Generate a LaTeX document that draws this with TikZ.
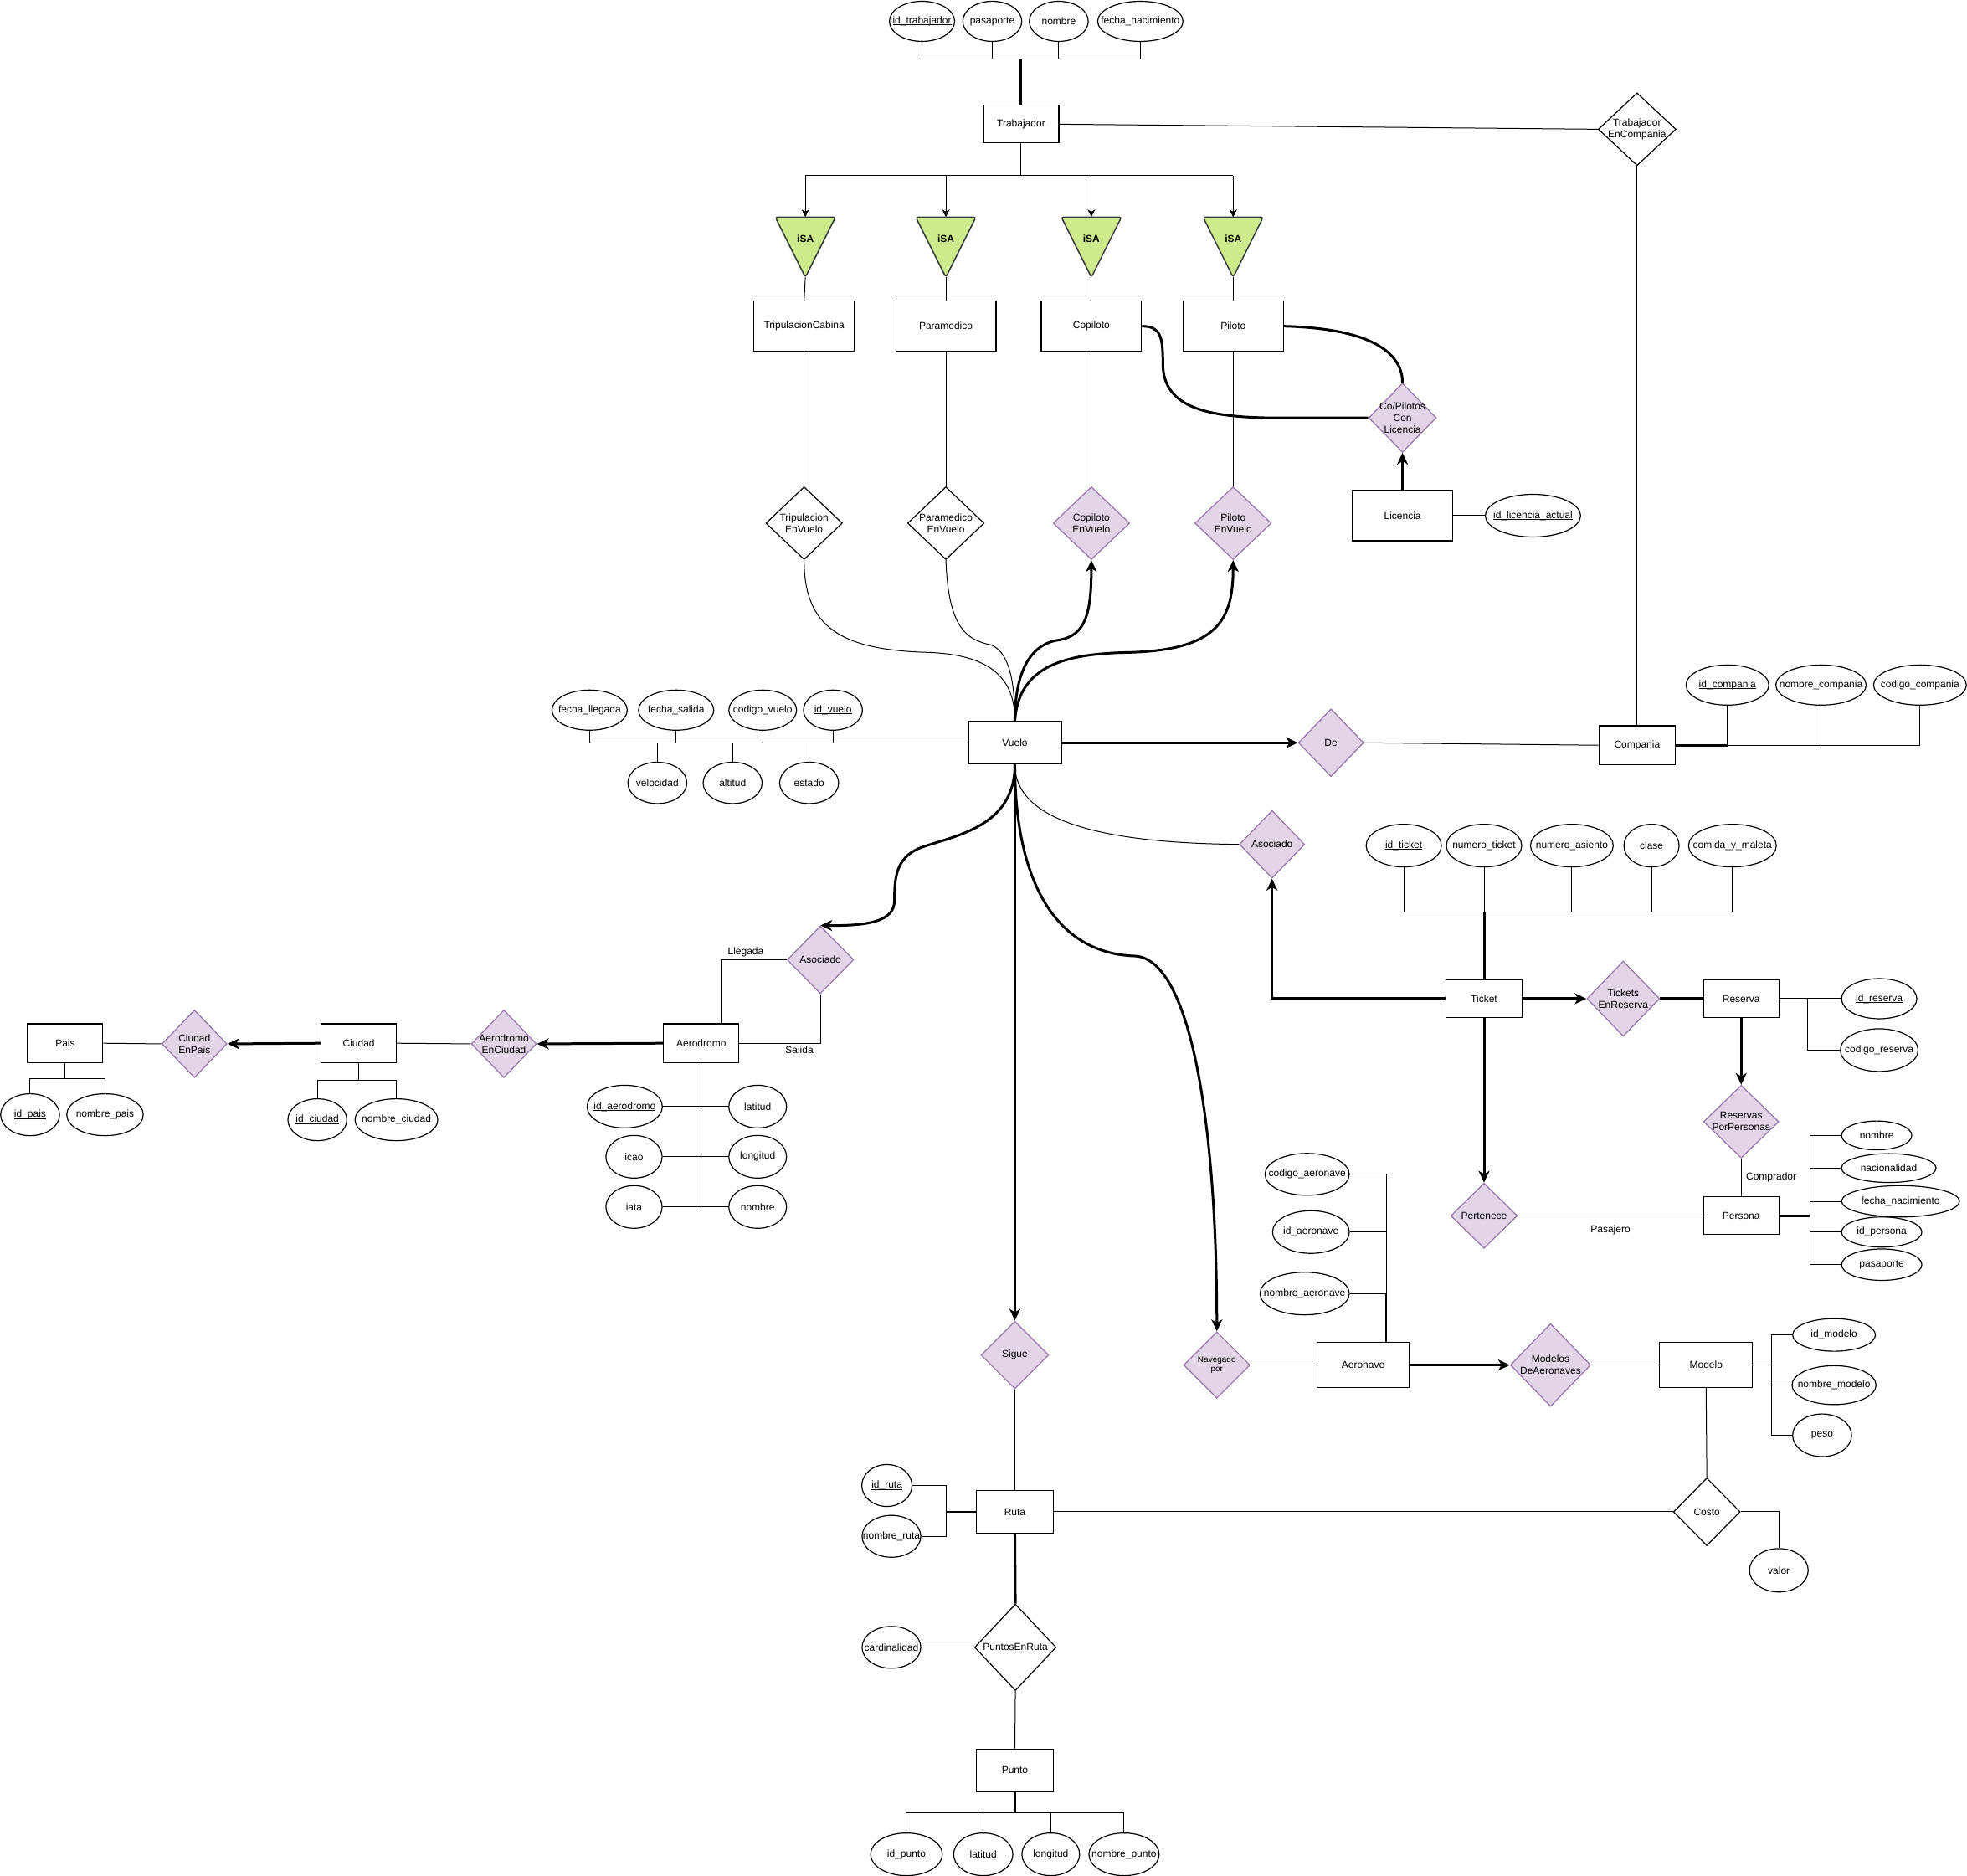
\documentclass[tikz,border=0pt]{standalone}
\usepackage{fontspec}
\setmainfont{Liberation Sans}
\usetikzlibrary{shapes.geometric,arrows.meta}
\definecolor{relfill}{HTML}{E1D5E7}
\definecolor{reldraw}{HTML}{9673A6}
\definecolor{isafill}{HTML}{CDEB8B}
\definecolor{isadraw}{HTML}{36393D}
\newcommand\keyul[1]{\setbox0\hbox{#1}\rlap{\rule[-1.8pt]{\wd0}{0.9pt}}#1}

\begin{document}
\begin{tikzpicture}[x=1.4987pt,y=-1.4987pt,
  font=\fontsize{12}{14}\selectfont,
  conn/.style={line width=1pt},
  bold/.style={line width=3pt},
  tip/.style={-{Stealth[length=14pt,width=13pt,inset=4pt]}},
  smalltip/.style={-{Stealth[length=9pt,width=9pt,inset=2.5pt]}},
  wh/.style 2 args={minimum width=#1*1.4987pt,minimum height=#2*1.4987pt},
  rxy/.style 2 args={minimum width=#1*2.9974pt,minimum height=#2*2.9974pt},
  entity/.style={draw,line width=1.2pt,align=center,inner sep=0pt,wh={60}{30}},
  attr/.style={draw,ellipse,line width=1.2pt,inner xsep=-14pt,inner ysep=-2pt,rxy={25}{16.5}},
  rel/.style={draw,diamond,line width=1.2pt,align=center,inner sep=-4pt,rxy={27}{27}},
  weak/.style={rel,fill=relfill,draw=reldraw},
  isa/.style={fill=isafill,draw=isadraw,line width=1.5pt,rounded corners=3pt}]
  \useasboundingbox (0,0) rectangle (1568,1495);
  \fill[white] (0,0) rectangle (1568,1495);

  % Trabajador
  \node[entity] (trab) at (814,99) {Trabajador};
  \foreach \nm/\x/\rx/\txt in {ta1/735/26/{\keyul{id\_trabajador}},ta2/791/23.5/pasaporte,ta3/844/23.5/nombre,ta4/909/34/fecha\_nacimiento}
    \node[attr,rxy={\rx}{16}] (\nm) at (\x,17) {\txt};
  \coordinate (tbus) at (814,47);
  \draw[conn] (ta1.south) |- (ta4.south |- tbus) -- (ta4.south);
  \foreach \nm in {ta2,ta3} \draw[conn] (\nm.south) -- (\nm.south |- tbus);
  \draw[bold] (tbus) -- (trab.north);
  \node[rel,rxy={31}{29}] (tec) at (1305,103) {Trabajador\\EnCompania};
  \draw[conn] (trab.east) -- (tec.west);

  % iSA
  \coordinate (isabus) at (814,140);
  \draw[conn] (trab.south) -- (isabus);
  \foreach \i/\x in {1/642,2/754,3/870,4/983} {
    \coordinate (isatop\i) at (\x,173);
    \coordinate (isabot\i) at (\x,221);
    \filldraw[isa] (\x-24,173) -- (\x+24,173) -- (\x,221) -- cycle;
    \node[font=\fontsize{12}{14}\selectfont\bfseries] (isa\i) at (\x,190) {iSA};
    \draw[conn,smalltip] (isatop\i |- isabus) -- (isatop\i);
  }
  \draw[conn] (isatop1 |- isabus) -- (isatop4 |- isabus);

  \node[entity,wh={80}{40}] (trip) at (641,260) {TripulacionCabina};
  \node[entity,wh={80}{40}] (param) at (754,260) {Paramedico};
  \node[entity,wh={80}{40}] (copi) at (870,260) {Copiloto};
  \node[entity,wh={80}{40}] (pilo) at (983,260) {Piloto};
  \foreach \i/\nm in {1/trip,2/param,3/copi,4/pilo} \draw[conn] (isabot\i) -- (\nm.north);

  \node[rel,rxy={30.5}{29}] (tripv) at (641,417) {Tripulacion\\EnVuelo};
  \node[rel,rxy={30.5}{29}] (paramv) at (754,417) {Paramedico\\EnVuelo};
  \node[weak,rxy={30.5}{29}] (copiv) at (870,417) {Copiloto\\EnVuelo};
  \node[weak,rxy={30.5}{29}] (pilov) at (983,417) {Piloto\\EnVuelo};
  \foreach \a/\b in {trip/tripv,param/paramv,copi/copiv,pilo/pilov} \draw[conn] (\a.south) -- (\b.north);

  % licencia
  \node[weak,rxy={27}{27.5}] (cpl) at (1118,333) {Co/Pilotos\\Con\\Licencia};
  \node[entity,wh={80}{40}] (lic) at (1118,411) {Licencia};
  \node[attr,rxy={38}{17}] (idlic) at (1222,411) {\keyul{id\_licencia\_actual}};
  \draw[bold,tip] (lic.north) -- (cpl.south);
  \draw[conn] (lic.east) -- (idlic.west);
  \draw[bold] (copi.east) .. controls (925,260) and (927,268) .. (927,290) .. controls (927,326) and (965,332) .. (1010,333) -- (cpl.west);
  \draw[bold] (pilo.east) .. controls (1100,262) and (1118,285) .. (cpl.north);

  % Vuelo
  \node[entity,wh={74}{34}] (vuelo) at (809,592) {Vuelo};
  \draw[conn] (tripv.south) .. controls (641,500) and (670,518) .. (740,520) .. controls (795,522) and (809,545) .. (vuelo.north);
  \draw[conn] (paramv.south) .. controls (756,500) and (770,510) .. (790,514) .. controls (805,520) and (809,545) .. (vuelo.north);
  \draw[bold,tip] (vuelo.north) .. controls (809,530) and (825,512) .. (845,510) .. controls (865,506) and (870,490) .. (copiv.south);
  \draw[bold,tip] (vuelo.north) .. controls (812,530) and (850,521) .. (900,520) .. controls (970,518) and (983,495) .. (pilov.south);
  \foreach \nm/\x/\rx/\txt in {fl/470/30/fecha\_llegada,fs/539/30/fecha\_salida,cv/608/27/codigo\_vuelo,iv/664/23.5/{\keyul{id\_vuelo}}}
    \node[attr,rxy={\rx}{16}] (\nm) at (\x,566) {\txt};
  \foreach \nm/\x/\txt in {vel/524/velocidad,alt/584/altitud,est/645/estado}
    \node[attr,rxy={23.5}{16.5}] (\nm) at (\x,624) {\txt};
  \draw[conn] (fl.south) |- (vuelo.west);
  \foreach \nm in {fs,cv,iv} \draw[conn] (\nm.south) -- (\nm.south |- vuelo.west);
  \foreach \nm in {vel,alt,est} \draw[conn] (\nm.north) -- (\nm.north |- vuelo.west);

  % Compania
  \node[weak,rxy={26}{27}] (de) at (1061,592) {De};
  \node[entity,wh={61}{31}] (comp) at (1305,594) {Compania};
  \draw[bold,tip] (vuelo.east) -- (de.west);
  \draw[conn] (de.east) -- (comp.west);
  \draw[conn] (tec.south) -- (comp.north);
  \foreach \nm/\x/\rx/\txt in {idc/1377/33/{\keyul{id\_compania}},nomc/1451.6/36/nombre\_compania,codc/1530.5/37/codigo\_compania}
    \node[attr,rxy={\rx}{16}] (\nm) at (\x,546) {\txt};
  \draw[conn] (comp.east) -| (codc.south);
  \draw[bold] (comp.east) -- (idc.south |- comp.east);
  \foreach \nm in {idc,nomc} \draw[conn] (\nm.south) -- (\nm.south |- comp.east);

  % Ticket y Reserva
  \node[weak,rxy={26}{27}] (asoc2) at (1014,673) {Asociado};
  \draw[conn] (vuelo.south) .. controls (809,655) and (880,672) .. (asoc2.west);
  \node[entity,wh={61}{30}] (tick) at (1183,796) {Ticket};
  \draw[bold,tip] (tick.west) -| (asoc2.south);
  \foreach \nm/\x/\rx/\txt in {idt/1119/30/{\keyul{id\_ticket}},numt/1183/30/numero\_ticket,numa/1253/33/numero\_asiento,cla/1316.5/22/clase,com/1381/35/comida\_y\_maleta}
    \node[attr,rxy={\rx}{17}] (\nm) at (\x,674) {\txt};
  \coordinate (tkbus) at (1183,727);
  \draw[conn] (idt.south) |- (com.south |- tkbus) -- (com.south);
  \foreach \nm in {numt,numa,cla} \draw[conn] (\nm.south) -- (\nm.south |- tkbus);
  \draw[bold] (tkbus) -- (tick.north);
  \node[weak,rxy={29}{30}] (ter) at (1294,796) {Tickets\\EnReserva};
  \node[entity] (res) at (1388,796) {Reserva};
  \draw[bold,tip] (tick.east) -- (ter.west);
  \draw[bold] (ter.east) -- (res.west);
  \node[attr,rxy={30}{16}] (idr) at (1498,796) {\keyul{id\_reserva}};
  \node[attr,rxy={31}{17}] (codr) at (1498,837) {codigo\_reserva};
  \coordinate (rbr) at (1441,796);
  \draw[conn] (res.east) -- (idr.west);
  \draw[conn] (rbr) |- (codr.west);
  \node[weak,rxy={30}{29}] (rpp) at (1388,894) {Reservas\\PorPersonas};
  \draw[bold,tip] (res.south) -- (rpp.north);
  \node[entity] (pers) at (1388,969) {Persona};
  \draw[conn] (rpp.south) -- (pers.north) node[midway,right=2pt] (comprador) {Comprador};
  \node[attr,rxy={28}{11.5}] (pnom) at (1496,905) {nombre};
  \node[attr,rxy={37.7}{11.5}] (pnac) at (1505.6,931) {nacionalidad};
  \node[attr,rxy={47}{12.5}] (pfn) at (1515,957.5) {fecha\_nacimiento};
  \node[attr,rxy={32}{12}] (pid) at (1500,982) {\keyul{id\_persona}};
  \node[attr,rxy={32}{12.5}] (ppas) at (1500,1008) {pasaporte};
  \coordinate (pbus) at (1443,969);
  \draw[bold] (pers.east) -- (pbus);
  \draw[conn] (pnom.west) -| (ppas.west -| pbus) -- (ppas.west);
  \foreach \nm in {pnac,pfn,pid} \draw[conn] (\nm.west) -- (\nm.west -| pbus);
  \node[weak,rxy={26.5}{26}] (pert) at (1183,969) {Pertenece};
  \draw[bold,tip] (tick.south) -- (pert.north);
  \draw[conn] (pert.east) -- (pers.west) node[midway,below=8pt] (pasajero) {Pasajero};

  % Aeronave y Modelo
  \node[weak,rxy={26.5}{26.5},font=\fontsize{10}{11}\selectfont] (nav) at (970,1088) {Navegado\\por};
  \draw[bold,tip] (vuelo.south) .. controls (809,700) and (840,760) .. (905,762) .. controls (950,765) and (970,900) .. (nav.north);
  \node[entity,wh={73}{36}] (aero) at (1086.6,1088) {Aeronave};
  \draw[conn] (nav.east) -- (aero.west);
  \node[attr,rxy={33.6}{16.7}] (codae) at (1042,936) {codigo\_aeronave};
  \node[attr,rxy={30.6}{17}] (idae) at (1045,982) {\keyul{id\_aeronave}};
  \node[attr,rxy={35.6}{17}] (nomae) at (1040,1031) {nombre\_aeronave};
  \coordinate (atop) at (1105,1070);
  \draw[conn] (codae.east) -| (atop);
  \foreach \nm in {idae,nomae} \draw[conn] (\nm.east) -- (\nm.east -| atop);
  \draw[line width=2pt] (nomae.east -| atop) -- (atop);
  \node[weak,rxy={32}{33}] (mda) at (1236,1088) {Modelos\\DeAeronaves};
  \node[entity,wh={74}{36}] (mod) at (1360,1088) {Modelo};
  \draw[bold,tip] (aero.east) -- (mda.west);
  \draw[conn] (mda.east) -- (mod.west);
  \node[attr,rxy={33}{13}] (idm) at (1462,1064) {\keyul{id\_modelo}};
  \node[attr,rxy={33.5}{15.5}] (nomm) at (1462,1104) {nombre\_modelo};
  \node[attr,rxy={23.5}{17}] (pes) at (1452.5,1144) {peso};
  \coordinate (mbus) at (1412,1088);
  \draw[conn] (mod.east) -- (mbus);
  \draw[conn] (idm.west) -| (pes.west -| mbus) -- (pes.west);
  \draw[conn] (nomm.west) -- (nomm.west -| mbus);
  \node[rel,rxy={26.6}{27}] (cost) at (1360.6,1205) {Costo};
  \node[attr,rxy={23.4}{17.3}] (val) at (1418,1251.6) {valor};
  \draw[conn] (mod.south) -- (cost.north);
  \draw[conn] (cost.east) -| (val.north);

  % Ruta y Punto
  \node[weak,rxy={27}{27}] (sig) at (809,1080) {Sigue};
  \draw[bold,tip] (vuelo.south) -- (sig.north);
  \node[entity,wh={61}{34}] (ruta) at (809,1205) {Ruta};
  \draw[conn] (sig.south) -- (ruta.north);
  \draw[conn] (ruta.east) -- (cost.west);
  \node[attr,rxy={20}{16.7}] (idru) at (707,1184) {\keyul{id\_ruta}};
  \node[attr,rxy={23.4}{16.7}] (nomru) at (710.6,1224.5) {nombre\_ruta};
  \coordinate (rbus) at (754,1205);
  \draw[conn] (idru.east) -| (nomru.east -| rbus) -- (nomru.east);
  \draw[line width=2pt] (rbus) -- (ruta.west);
  \node[rel,rxy={32.5}{34.5}] (per) at (809.4,1313) {PuntosEnRuta};
  \draw[bold] (ruta.south) -- (per.north);
  \node[attr,rxy={23.4}{16.7}] (card) at (710.6,1313) {cardinalidad};
  \draw[conn] (card.east) -- (per.west);
  \node[entity,wh={61}{34}] (pun) at (809,1411) {Punto};
  \draw[conn] (per.south) -- (pun.north);
  \foreach \nm/\x/\rx/\txt in {idp/722.6/28.6/{\keyul{id\_punto}},lat/783.8/23.6/latitud,lon/837.6/23/longitud,nomp/896/28/nombre\_punto}
    \node[attr,rxy={\rx}{17}] (\nm) at (\x,1478) {\txt};
  \coordinate (pbus2) at (809,1444.6);
  \draw[bold] (pun.south) -- (pbus2);
  \draw[conn] (idp.north) |- (nomp.north |- pbus2) -- (nomp.north);
  \foreach \nm in {lat,lon} \draw[conn] (\nm.north) -- (\nm.north |- pbus2);

  % Aerodromo, Ciudad, Pais
  \node[weak,rxy={26.5}{27}] (asoc1) at (654,765) {Asociado};
  \draw[bold,tip] (vuelo.south) .. controls (809,660) and (760,666) .. (733,676) .. controls (714,684) and (713,700) .. (713,718) .. controls (713,735) and (690,738) .. (asoc1.north);
  \node[entity,wh={60}{31}] (aerd) at (559,831.5) {Aerodromo};
  \coordinate (llg) at (574.5,816);
  \draw[conn] (llg) |- (asoc1.west) node[pos=0.69,above] (llegada) {Llegada};
  \draw[conn] (aerd.east) -| (asoc1.south) node[pos=0.37,below] (salida) {Salida};
  \node[attr,rxy={30}{17}] (ida) at (498,882) {\keyul{id\_aerodromo}};
  \node[attr,rxy={22.4}{17}] (aic) at (505.4,922) {icao};
  \node[attr,rxy={22.4}{17}] (aia) at (505.4,962) {iata};
  \node[attr,rxy={23}{17}] (alat) at (604,882) {latitud};
  \node[attr,rxy={23}{17}] (alon) at (604,922) {longitud};
  \node[attr,rxy={23}{17}] (anom) at (604,962) {nombre};
  \draw[conn] (aerd.south) -- (aerd.south |- aia.east);
  \foreach \l/\r in {ida/alat,aic/alon,aia/anom} \draw[conn] (\l.east) -- (\r.west);
  \node[weak,rxy={26}{27}] (aec) at (401.7,832) {Aerodromo\\EnCiudad};
  \node[entity,wh={60}{31}] (ciu) at (286,831.5) {Ciudad};
  \draw[bold,tip] (aerd.west) -- (aec.east);
  \draw[conn] (aec.west) -- (ciu.east);
  \node[attr,rxy={23.5}{16.7}] (idci) at (253,892.5) {\keyul{id\_ciudad}};
  \node[attr,rxy={33}{16.7}] (nomci) at (316,892.5) {nombre\_ciudad};
  \coordinate (cbus) at (286,861);
  \draw[conn] (ciu.south) -- (cbus);
  \draw[conn] (idci.north) |- (nomci.north |- cbus) -- (nomci.north);
  \node[weak,rxy={26}{27}] (cep) at (155,832) {Ciudad\\EnPais};
  \node[entity,wh={60}{31}] (pais) at (52,831.5) {Pais};
  \draw[bold,tip] (ciu.west) -- (cep.east);
  \draw[conn] (cep.west) -- (pais.east);
  \node[attr,rxy={23.5}{16.7}] (idpa) at (24,888.5) {\keyul{id\_pais}};
  \node[attr,rxy={30.5}{16.7}] (nompa) at (83.7,888.5) {nombre\_pais};
  \coordinate (pabus) at (52,860);
  \draw[conn] (pais.south) -- (pabus);
  \draw[conn] (idpa.north) |- (nompa.north |- pabus) -- (nompa.north);
\end{tikzpicture}
\end{document}
